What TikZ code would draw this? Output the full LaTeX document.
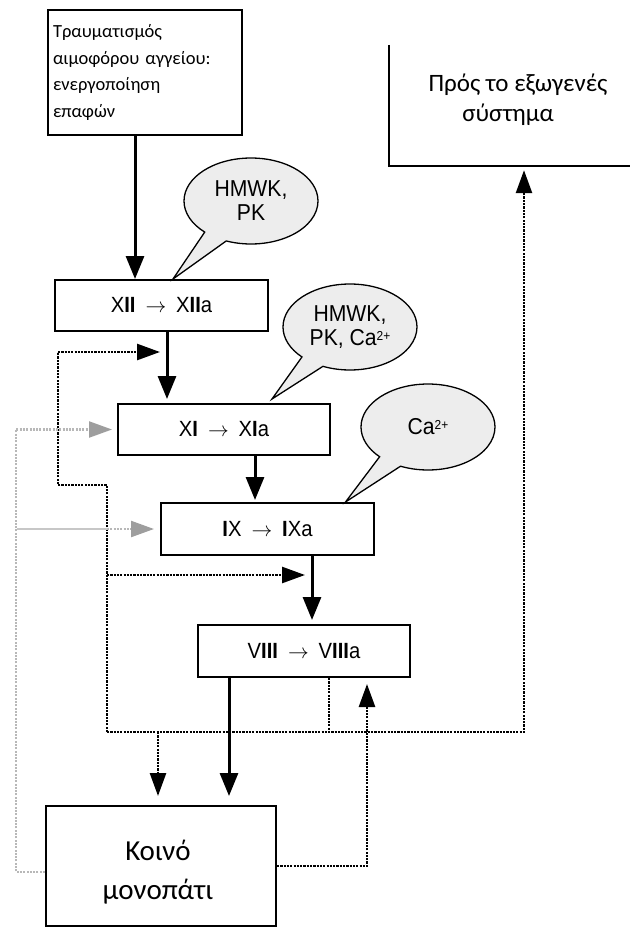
\documentclass[tikz,border=0pt]{standalone}
\usepackage{fontspec}
\setmainfont{Carlito}
\newfontfamily\arialc[FakeStretch=0.92]{Liberation Sans}
\newcommand{\ionsup}[1]{{\fontsize{13}{13}\selectfont\raisebox{5pt}{#1}}}
\newcommand{\toarrow}{\hspace{10pt}$\rightarrow$\hspace{10pt}}
\usetikzlibrary{positioning,arrows.meta,shapes.callouts}

\begin{document}
\begin{tikzpicture}[x=1pt, y=-1pt,
  box/.style={draw, line width=2pt, minimum height=51pt, inner sep=2pt,
              font=\arialc\fontsize{22}{24}\selectfont},
  bubble/.style={ellipse callout, draw, line width=1.3pt, fill=black!7,
                 inner sep=0pt, minimum width=134pt, minimum height=86pt,
                 callout pointer arc=22, align=center,
                 font=\arialc\fontsize{23}{24}\selectfont},
  arr/.style={-{Triangle[width=18pt,length=23pt]}, line width=3pt},
  dotline/.style={line width=2.6pt, dash pattern=on 2.2pt off 1.1pt},
  dotarr/.style={dotline, -{Triangle[width=16pt,length=23pt]}},
  grayline/.style={draw=black!28, line width=2.2pt, dash pattern=on 2pt off 1.3pt},
  grayarr/.style={grayline, -{Triangle[width=16pt,length=23pt,color=black!38]}}
]
  \useasboundingbox (0,0) rectangle (630,930);

  % Start and target boxes
  \node[box, text width=184pt, minimum height=125pt, inner xsep=5pt, align=left,
        font=\fontsize{18.5}{26.5}\selectfont] (trauma) at (145,72.5)
    {Τραυματισμός\\αιμοφόρου αγγείου:\\ενεργοποίηση\\επαφών};
  \node[minimum width=241pt, minimum height=121pt] (exo) at (509.5,105.5) {};
  \node[align=center, font=\fontsize{25}{30}\selectfont] (exotext) at (518,100)
    {Πρός το εξωγενές\\σύστημα\hspace*{20pt}};
  \draw[line width=2pt] (exo.north west) -- (exo.south west) -- (exo.south east);

  % Factor boxes
  \node[box, minimum width=213pt] (xii) at (161.5,305.5) {X\textbf{II}\toarrow X\textbf{II}a};
  \node[box, minimum width=212pt] (xi) at (224,429.5) {X\textbf{I}\toarrow X\textbf{I}a};
  \node[box, minimum width=213pt, minimum height=52pt] (ix) at (267.5,529) {\textbf{I}X\toarrow \textbf{I}Xa};
  \node[box, minimum width=212pt, minimum height=52pt] (viii) at (304,651) {V\textbf{III}\toarrow V\textbf{III}a};

  % Common pathway
  \node[box, minimum width=230pt, minimum height=120pt] (koino) at (161,866) {};
  \node[align=center, font=\fontsize{29}{39}\selectfont] (koinotext) at (158,872) {Κοινό\\μονοπάτι};

  % Cofactor bubbles
  \node[bubble, callout absolute pointer={([xshift=11.5pt]xii.north)}] (cof1) at (251,201) {HMWK,\\PK};
  \node[bubble, callout absolute pointer={([xshift=48pt,yshift=4pt]xi.north)}] (cof2) at (350,327) {HMWK,\\PK, Ca\ionsup{2+}};
  \node[bubble, callout absolute pointer={([xshift=78pt]ix.north)}] (cof3) at (428,427) {Ca\ionsup{2+}};

  % Cascade
  \draw[arr] ([xshift=-10pt]trauma.south) -- ([xshift=-10pt]trauma.south |- xii.north);
  \draw[arr, shorten >=4pt] ([xshift=5.5pt]xii.south) -- ([xshift=5.5pt]xii.south |- xi.north);
  \draw[arr, shorten >=2pt] ([xshift=31pt]xi.south) -- ([xshift=31pt]xi.south |- ix.north);
  \draw[arr, shorten >=4pt] ([xshift=44.5pt]ix.south) -- ([xshift=44.5pt]ix.south |- viii.north);
  \draw[arr, shorten >=9pt] ([xshift=-75pt]viii.south) -- ([xshift=-75pt]viii.south |- koino.north);

  % Feedback loop (dotted)
  \coordinate (busW) at (107,732);
  \coordinate (busE) at (524,732);
  \coordinate (bendA) at (107,485);
  \coordinate (bendB) at (58,485);
  \coordinate (feedXII) at (58,352);
  \coordinate (feedIX) at (107,575);
  \coordinate (dropK) at (158,732);
  \coordinate (riseV) at (367,866);

  \draw[dotline] ([xshift=25pt]viii.south) -- ([xshift=25pt]viii.south |- busE);
  \draw[dotarr, shorten >=4pt] (busW) -- (busE) -- (busE |- exo.south);
  \draw[dotline] (busW) -- (bendA) -- (bendB) -- (feedXII);
  \draw[dotarr, shorten >=7pt] (feedXII) -- ([xshift=5.5pt]xii.south |- feedXII);
  \draw[dotarr, shorten >=7pt] (feedIX) -- ([xshift=44.5pt]ix.south |- feedIX);
  \draw[dotarr, shorten >=9pt] (dropK) -- (dropK |- koino.north);
  \draw[dotarr, shorten >=6pt] (koino.east) -- (riseV) -- ([xshift=63pt]viii.south);

  % Feedback from the common pathway (grey)
  \coordinate (grayW) at (17,529);
  \coordinate (grayM) at (107,529);
  \draw[grayarr, shorten >=5pt] ([yshift=-6pt]koino.west) -| ([xshift=-101pt]xi.west) -- (xi.west);
  \draw[draw=black!22, line width=2.2pt] (grayW) -- (grayM);
  \draw[grayarr, shorten >=6pt] (grayM) -- (ix.west);
\end{tikzpicture}
\end{document}
